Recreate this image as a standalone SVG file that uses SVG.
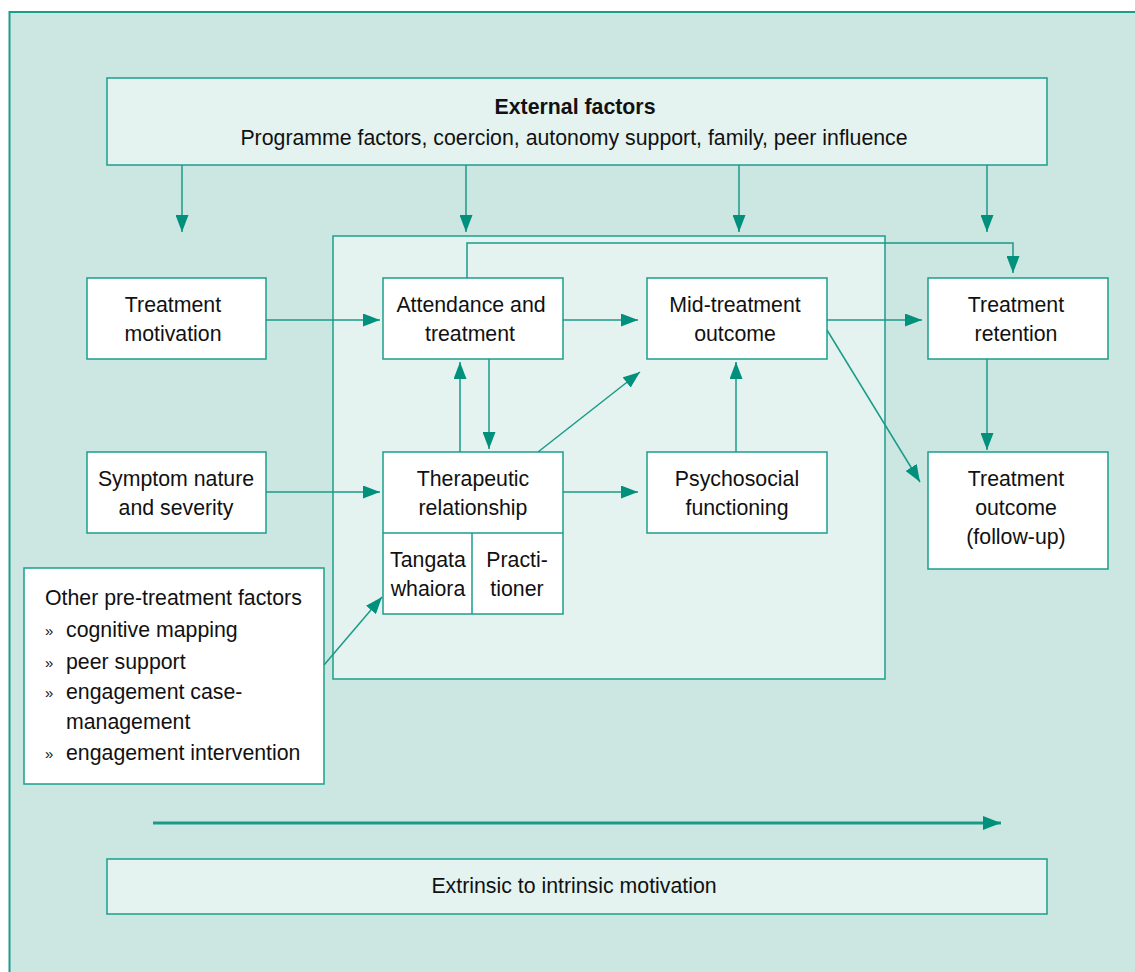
<svg xmlns="http://www.w3.org/2000/svg" width="1135" height="972" viewBox="0 0 1135 972">
  <defs>
    <marker id="ah" viewBox="0 0 17 13" refX="17" refY="6.5" markerWidth="17" markerHeight="13" markerUnits="userSpaceOnUse" orient="auto">
      <path d="M0,0 L17,6.5 L0,13 Z" fill="#00907c"/>
    </marker>
    <marker id="ahBig" viewBox="0 0 18 14" refX="18" refY="7" markerWidth="18" markerHeight="14" markerUnits="userSpaceOnUse" orient="auto">
      <path d="M0,0 L18,7 L0,14 Z" fill="#00907c"/>
    </marker>
  </defs>
  <style>
    text { font-family: "Liberation Sans", Arial, sans-serif; font-size: 21.3px; fill: #111; }
    .c { text-anchor: middle; }
    .b { font-weight: bold; }
    .bul { font-size: 15px; }
    .node { fill: #ffffff; stroke: #1a9e8c; stroke-width: 1.5; }
    .pale { fill: #e4f3f0; stroke: #1a9e8c; stroke-width: 1.5; }
    .con line, .con polyline { stroke: #1a9a88; stroke-width: 1.5; fill: none; marker-end: url(#ah); }
  </style>

  <!-- background panel -->
  <rect x="0" y="0" width="1135" height="972" fill="#ffffff"/>
  <rect x="9.5" y="12" width="1140" height="980" fill="#cce6e2" stroke="#1a9e8c" stroke-width="2"/>

  <!-- treatment phase panel -->
  <rect id="treatment-phase" class="pale" x="333" y="236" width="552" height="443"/>

  <g id="external-factors">
    <rect class="pale" x="107" y="78" width="940" height="87"/>
    <text class="c b" x="575" y="114">External factors</text>
    <text class="c" x="574" y="145">Programme factors, coercion, autonomy support, family, peer influence</text>
  </g>

  <g id="treatment-motivation">
    <rect class="node" x="87" y="278" width="179" height="81"/>
    <text class="c" x="173" y="312">Treatment</text>
    <text class="c" x="173" y="341">motivation</text>
  </g>

  <g id="attendance">
    <rect class="node" x="383" y="278" width="180" height="81"/>
    <text class="c" x="471" y="312">Attendance and</text>
    <text class="c" x="470" y="341">treatment</text>
  </g>

  <g id="mid-treatment">
    <rect class="node" x="647" y="278" width="180" height="81"/>
    <text class="c" x="735" y="312">Mid-treatment</text>
    <text class="c" x="735" y="341">outcome</text>
  </g>

  <g id="retention">
    <rect class="node" x="928" y="278" width="180" height="81"/>
    <text class="c" x="1016" y="312">Treatment</text>
    <text class="c" x="1016" y="341">retention</text>
  </g>

  <g id="symptom">
    <rect class="node" x="87" y="452" width="179" height="81"/>
    <text class="c" x="176" y="486">Symptom nature</text>
    <text class="c" x="176" y="515">and severity</text>
  </g>

  <g id="therapeutic">
    <rect class="node" x="383" y="452" width="180" height="162"/>
    <line x1="383" y1="533" x2="563" y2="533" stroke="#1a9e8c" stroke-width="1.5"/>
    <line x1="472" y1="533" x2="472" y2="614" stroke="#1a9e8c" stroke-width="1.5"/>
    <text class="c" x="473" y="486">Therapeutic</text>
    <text class="c" x="473" y="515">relationship</text>
    <text class="c" x="428" y="567">Tangata</text>
    <text class="c" x="428" y="596">whaiora</text>
    <text class="c" x="517" y="567">Practi-</text>
    <text class="c" x="517" y="596">tioner</text>
  </g>

  <g id="psychosocial">
    <rect class="node" x="647" y="452" width="180" height="81"/>
    <text class="c" x="737" y="486">Psychosocial</text>
    <text class="c" x="737" y="515">functioning</text>
  </g>

  <g id="outcome">
    <rect class="node" x="928" y="452" width="180" height="117"/>
    <text class="c" x="1016" y="486">Treatment</text>
    <text class="c" x="1016" y="515">outcome</text>
    <text class="c" x="1016" y="544">(follow-up)</text>
  </g>

  <g id="other-factors">
    <rect class="node" x="24" y="568" width="300" height="216"/>
    <text x="45" y="605">Other pre-treatment factors</text>
    <text class="bul" x="45" y="636">»</text><text x="66" y="637">cognitive mapping</text>
    <text class="bul" x="45" y="668">»</text><text x="66" y="669">peer support</text>
    <text class="bul" x="45" y="698">»</text><text x="66" y="699">engagement case-</text>
    <text x="66" y="729">management</text>
    <text class="bul" x="45" y="759">»</text><text x="66" y="760">engagement intervention</text>
  </g>

  <g id="motivation-scale">
    <rect class="pale" x="107" y="859" width="940" height="55"/>
    <text class="c" x="574" y="893">Extrinsic to intrinsic motivation</text>
  </g>

  <g id="connectors" class="con">
    <!-- external factors feeding down -->
    <line x1="182" y1="165" x2="182" y2="232"/>
    <line x1="466" y1="165" x2="466" y2="232"/>
    <line x1="739" y1="165" x2="739" y2="232"/>
    <line x1="987" y1="165" x2="987" y2="232"/>
    <!-- attendance loop to retention -->
    <polyline points="467,278 467,243 1013,243 1013,273"/>
    <!-- top row -->
    <line x1="266" y1="320" x2="380" y2="320"/>
    <line x1="563" y1="320" x2="638" y2="320"/>
    <line x1="827" y1="320" x2="922" y2="320"/>
    <!-- attendance / therapeutic -->
    <line x1="460" y1="452" x2="460" y2="362"/>
    <line x1="489" y1="359" x2="489" y2="449"/>
    <!-- therapeutic to mid-treatment -->
    <line x1="538" y1="452" x2="640" y2="372"/>
    <!-- psychosocial to mid-treatment -->
    <line x1="736" y1="452" x2="736" y2="362"/>
    <!-- mid-treatment to follow-up -->
    <line x1="827" y1="330" x2="920" y2="482"/>
    <!-- retention to follow-up -->
    <line x1="987" y1="359" x2="987" y2="450"/>
    <!-- middle row -->
    <line x1="266" y1="492" x2="380" y2="492"/>
    <line x1="563" y1="492" x2="638" y2="492"/>
    <!-- other factors to tangata whaiora -->
    <line x1="324" y1="665" x2="382" y2="597"/>
    <!-- motivation scale arrow -->
    <line x1="153" y1="823" x2="1001" y2="823" style="stroke-width:3; marker-end:url(#ahBig)"/>
  </g>
</svg>
